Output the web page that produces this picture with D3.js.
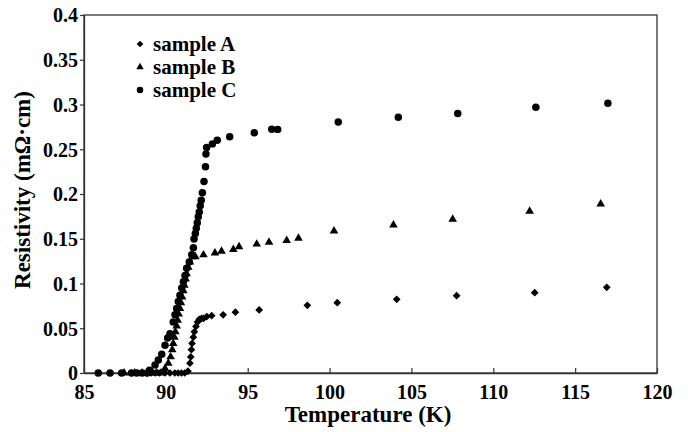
<!DOCTYPE html>
<html>
<head>
  <meta charset='utf-8'>
  <script src='https://cdn.jsdelivr.net/npm/d3@7/dist/d3.min.js'></script>
</head>
<body style='margin:0'>
  <script>
    // temperature (K) and resistivity (mOhm cm)
    const tempA = [88.9, 89.1, 89.35, 89.6, 89.95, 90.25, 90.55, 90.75, 90.95, 91.15,
        91.35, 91.47, 91.52, 91.56, 91.6, 91.68, 91.74, 91.84, 91.94, 92.04,
        92.18, 92.3, 92.5, 92.8, 93.5, 94.25, 95.7, 98.64, 100.47, 104.1,
        107.76, 112.53, 116.93];
    const rhoA = [0, 0, 0, 0, 0, 0, 0, 0, 0, 0,
        0.002, 0.011, 0.018, 0.026, 0.033, 0.04, 0.046, 0.052, 0.057, 0.06,
        0.061, 0.061, 0.063, 0.064, 0.065, 0.068, 0.0704, 0.0756, 0.0786, 0.0823,
        0.0864, 0.0897, 0.0957];
    const tempB = [87.45, 88.1, 88.55, 88.9, 89.2, 89.45, 89.7, 89.95, 90.15, 90.29,
        90.39, 90.45, 90.52, 90.58, 90.66, 90.72, 90.78, 90.86, 90.92, 90.99,
        91.07, 91.13, 91.21, 91.27, 91.37, 91.47, 91.63, 91.8, 92.3, 93.0,
        93.4, 94.12, 94.47, 95.55, 96.3, 97.38, 98.1, 100.27, 103.9, 107.52,
        112.22, 116.56];
    const rhoB = [0, 0, 0, 0, 0, 0, 0, 0.005, 0.011, 0.018,
        0.026, 0.033, 0.04, 0.046, 0.0525, 0.059, 0.066, 0.072, 0.0786, 0.085,
        0.092, 0.098, 0.105, 0.111, 0.118, 0.124, 0.13, 0.13, 0.132, 0.134,
        0.136, 0.138, 0.141, 0.144, 0.146, 0.148, 0.1505, 0.1587, 0.1654, 0.1717,
        0.1807, 0.1888];
    const tempC = [85.87, 86.59, 87.3, 87.9, 88.22, 88.55, 88.85, 89.0, 89.34, 89.54,
        89.75, 89.95, 90.11, 90.25, 90.45, 90.56, 90.66, 90.76, 90.86, 90.97,
        91.07, 91.17, 91.27, 91.43, 91.58, 91.68, 91.72, 91.8, 91.86, 91.92,
        91.98, 92.04, 92.1, 92.16, 92.23, 92.33, 92.42, 92.45, 92.49, 92.84,
        93.14, 93.9, 95.4, 96.47, 96.83, 100.53, 104.2, 107.83, 112.6, 117.0];
    const rhoC = [0, 0, 0, 0, 0, 0, 0, 0.003, 0.009, 0.0145,
        0.021, 0.031, 0.039, 0.044, 0.057, 0.065, 0.072, 0.08, 0.087, 0.095,
        0.102, 0.109, 0.117, 0.124, 0.132, 0.14, 0.1497, 0.156, 0.1617, 0.168,
        0.1746, 0.18, 0.187, 0.193, 0.2015, 0.214, 0.2305, 0.2447, 0.252, 0.256,
        0.26, 0.264, 0.2685, 0.2723, 0.2722, 0.2804, 0.2857, 0.29, 0.297, 0.3013];

    const seriesNames = ['sample A', 'sample B', 'sample C'];
    const xTicks = [85, 90, 95, 100, 105, 110, 115, 120];
    const yTicks = [0, 0.05, 0.1, 0.15, 0.2, 0.25, 0.3, 0.35, 0.4];
    const yTickLabels = ['0', '0.05', '0.1', '0.15', '0.2', '0.25', '0.3', '0.35', '0.4'];

    const series = [
        { name: seriesNames[0], temp: tempA, rho: rhoA },
        { name: seriesNames[1], temp: tempB, rho: rhoB },
        { name: seriesNames[2], temp: tempC, rho: rhoC }
    ];

    // marker shapes: diamond is a square turned by 45 degrees
    const markers = [
        { type: d3.symbolSquare, size: 30, rotate: 45 },
        { type: d3.symbolTriangle, size: 32, rotate: 0 },
        { type: d3.symbolCircle, size: 44, rotate: 0 }
    ];

    const W = 688, H = 432;
    const margin = { top: 15, right: 31, bottom: 59, left: 84 };
    const width = W - margin.left - margin.right;
    const height = H - margin.top - margin.bottom;

    const svg = d3.select('body').append('svg')
        .attr('width', W)
        .attr('height', H)
        .attr('font-family', 'Liberation Serif')
        .attr('font-weight', 'bold');
    const g = svg.append('g')
        .attr('transform', `translate(${margin.left}, ${margin.top})`);

    const x = d3.scaleLinear().domain([85, 120]).range([0, width]);
    const y = d3.scaleLinear().domain([0, 0.4]).range([height, 0]);

    // frame
    g.append('rect')
        .attr('width', width)
        .attr('height', height)
        .attr('fill', 'none')
        .attr('stroke', '#333')
        .attr('stroke-width', 1.3);

    const xAxis = g.append('g')
        .attr('transform', `translate(0, ${height})`)
        .call(d3.axisBottom(x).tickValues(xTicks).tickSizeInner(-5).tickSizeOuter(0));
    xAxis.selectAll('text')
        .attr('y', 26)
        .attr('dy', 0);

    const yAxis = g.append('g')
        .call(d3.axisLeft(y).tickValues(yTicks)
            .tickFormat((d, i) => yTickLabels[i])
            .tickSizeInner(4).tickSizeOuter(0).tickPadding(2));
    yAxis.selectAll('text')
        .attr('dy', '0.34em');

    [xAxis, yAxis].forEach(a => {
        a.attr('font-family', 'Liberation Serif').attr('font-size', 20);
        a.select('.domain').attr('stroke', '#333').attr('stroke-width', 1.3);
        a.selectAll('.tick line').attr('stroke', '#333').attr('stroke-width', 1.2);
        a.selectAll('text').attr('fill', '#000');
    });

    // data points
    series.forEach((s, k) => {
        const m = markers[k];
        const sym = d3.symbol().type(m.type).size(m.size);
        g.append('g')
            .selectAll('path')
            .data(s.temp.map((t, i) => ({ t: t, r: s.rho[i] })))
            .enter()
            .append('path')
            .attr('d', sym)
            .attr('transform', d => `translate(${x(d.t)}, ${y(d.r)}) rotate(${m.rotate})`)
            .attr('fill', '#000');
    });

    // legend
    const legend = g.append('g').attr('transform', 'translate(56, 29)');
    series.forEach((s, k) => {
        const m = markers[k];
        const row = legend.append('g').attr('transform', `translate(0, ${k * 23})`);
        row.append('path')
            .attr('d', d3.symbol().type(m.type).size(m.size * 0.75))
            .attr('transform', `rotate(${m.rotate})`)
            .attr('fill', '#000');
        row.append('text')
            .attr('x', 13)
            .attr('y', 7)
            .attr('font-size', 21)
            .text(s.name);
    });

    // axis titles
    svg.append('text')
        .attr('x', 368)
        .attr('y', 422)
        .attr('text-anchor', 'middle')
        .attr('font-size', 23)
        .text('Temperature (K)');
    svg.append('text')
        .attr('transform', 'translate(30, 190) rotate(-90)')
        .attr('text-anchor', 'middle')
        .attr('font-size', 23)
        .text('Resistivity (m\u03A9\u00B7cm)');
  </script>
</body>
</html>
